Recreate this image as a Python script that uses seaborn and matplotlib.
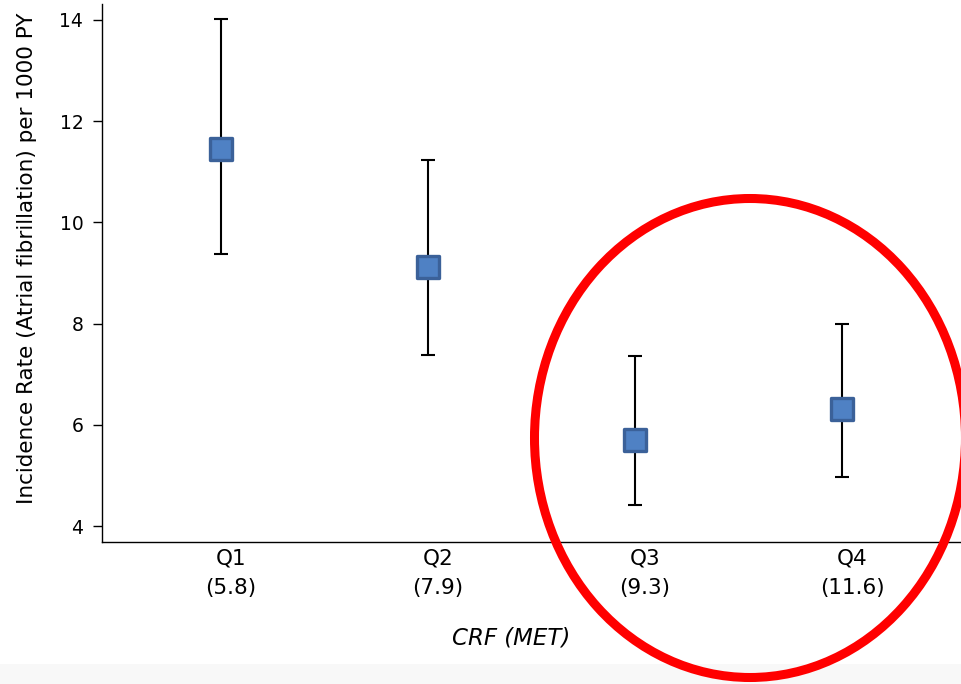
import matplotlib
matplotlib.use("Agg")
import matplotlib.pyplot as plt
import matplotlib.transforms as mtransforms
from matplotlib.patches import Ellipse, Rectangle
import seaborn as sns
import pandas as pd
import numpy as np

# ---- data ----
categories = ["Q1\n(5.8)", "Q2\n(7.9)", "Q3\n(9.3)", "Q4\n(11.6)"]
rate = [11.45, 9.11, 5.69, 6.31]
ci_low = [9.38, 7.37, 4.41, 4.96]
ci_high = [14.02, 11.23, 7.35, 7.99]
y_ticks = [4, 6, 8, 10, 12, 14]

sns.set_style("ticks")
plt.rcParams["font.family"] = ["DejaVu Sans"]

fig = plt.figure(figsize=(9.61, 6.84), dpi=100)
ax = fig.add_axes([102 / 961, 142 / 684, 859 / 961, 538 / 684])

df = pd.DataFrame({"cat": categories, "rate": rate,
                   "lo": ci_low, "hi": ci_high})

pos = np.arange(len(categories))
yerr = np.vstack([df["rate"] - df["lo"], df["hi"] - df["rate"]])
ax.errorbar(pos, df["rate"], yerr=yerr, fmt="none", ecolor="black",
            elinewidth=1.5, capsize=5, capthick=1.5, zorder=2)

sns.scatterplot(data=df, x="cat", y="rate", marker="s", s=16.5 ** 2,
                color="#4F81C4", edgecolor="#3B6199", linewidth=2.4,
                zorder=3, ax=ax, legend=False)

ax.set_xlim(-0.575, 3.575)
ax.set_ylim(3.684, 14.316)
ax.set_yticks(y_ticks)
ax.set_yticklabels([str(t) for t in y_ticks])
ax.tick_params(axis="y", labelsize=13.5, length=6.5, width=1, pad=7, colors="black")
ax.tick_params(axis="x", labelsize=15.5, length=0, pad=5, colors="black")
for lab in ax.get_xticklabels():
    lab.set_linespacing(1.55)
    lab.set_transform(lab.get_transform() + mtransforms.ScaledTranslation(0.10, 0, fig.dpi_scale_trans))

for s in ["left", "bottom"]:
    ax.spines[s].set_color("black")
    ax.spines[s].set_linewidth(1.0)
sns.despine(ax=ax)

ax.set_xlabel("CRF (MET)", fontsize=16.5, style="italic", color="black")
ax.xaxis.set_label_coords((511 - 102) / 859, -(638 - 542) / 538)
ax.xaxis.label.set_va("center")
ax.set_ylabel("Incidence Rate (Atrial fibrillation) per 1000 PY", fontsize=15.5, color="black")
ax.yaxis.set_label_coords(-(102 - 27) / 859, (542 - 258) / 538)
ax.yaxis.label.set_va("center")

# light band at bottom
fig.patches.append(Rectangle((0, 0), 1, 20 / 684, transform=fig.transFigure,
                             facecolor="#f8f8f8", edgecolor="none", zorder=-1))

# red ellipse annotation
ell = Ellipse((750 / 961, (684 - 438) / 684), 431 / 961, 479 / 684,
              transform=fig.transFigure, fill=False, edgecolor="#ff0000",
              linewidth=6.5, zorder=10, clip_on=False)
fig.patches.append(ell)

fig.savefig("out.png", dpi=100)
